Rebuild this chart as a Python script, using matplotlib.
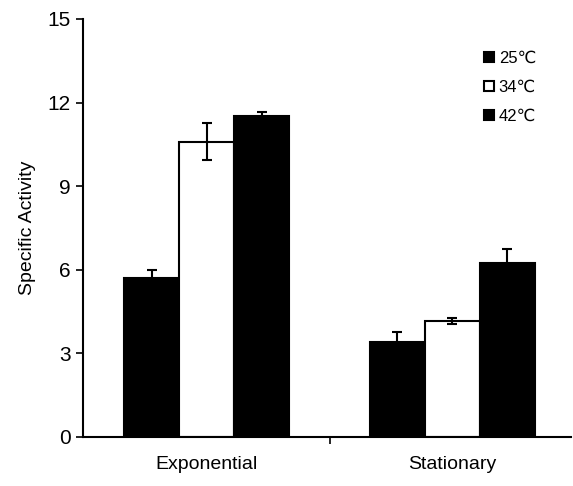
import numpy as np
import matplotlib
matplotlib.use('Agg')
import matplotlib.pyplot as plt

# data
phases = ['Exponential', 'Stationary']
temps = ['25℃', '34℃', '42℃']
act_25 = [5.7, 3.4]
act_34 = [10.6, 4.15]
act_42 = [11.5, 6.25]
err_25 = [0.3, 0.35]
err_34 = [0.65, 0.1]
err_42 = [0.15, 0.5]

fonts = ['Liberation Sans', 'DejaVu Sans']
plt.rcParams['font.family'] = fonts

fig = plt.figure(figsize=(5.73, 4.86), dpi=100)
ax = fig.add_axes([0.145, 0.101, 0.852, 0.86])

x = np.arange(len(phases))
w = 0.224
colors = ['black', 'white', 'black']
series = [act_25, act_34, act_42]
errs = [err_25, err_34, err_42]
handles = []
for i in range(3):
    b = ax.bar(x + (i - 1) * w, series[i], w, color=colors[i], edgecolor='black',
               linewidth=1.5, yerr=errs[i], capsize=3.5,
               error_kw=dict(ecolor='black', elinewidth=1.5, capthick=1.5))
    handles.append(b)

ax.set_xlim(-0.504, 1.484)
ax.set_ylim(0, 15)
ax.set_yticks([0, 3, 6, 9, 12, 15])
ax.tick_params(axis='y', labelsize=15, length=5, width=1.2, direction='out', pad=4)
ax.set_xticks(x)
ax.set_xticklabels(phases, fontsize=14)
ax.tick_params(axis='x', length=0, pad=14)
ax.set_xticks([0.5], minor=True)
ax.tick_params(axis='x', which='minor', length=5, width=1.2)
ax.set_ylabel('Specific Activity', fontsize=14, labelpad=8)

ax.spines['top'].set_visible(False)
ax.spines['right'].set_visible(False)
ax.spines['left'].set_linewidth(1.5)
ax.spines['bottom'].set_linewidth(1.5)

ax.legend(handles, temps, loc='upper left', bbox_to_anchor=(0.79, 0.96),
          frameon=False, fontsize=12, handlelength=0.6, handleheight=0.6,
          handletextpad=0.3, labelspacing=0.85)

fig.savefig('out.png', dpi=100)
